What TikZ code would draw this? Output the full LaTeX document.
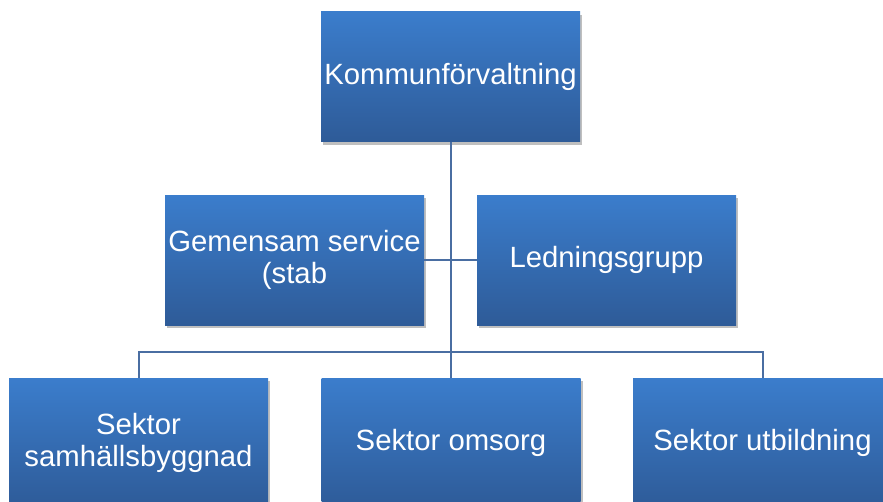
\documentclass[tikz,border=0pt]{standalone}
\usepackage{fontspec}
\setmainfont{Liberation Sans}
\usepackage{xcolor}
\usepackage{tikz}
\usetikzlibrary{positioning,shadows}
\definecolor{boxtop}{RGB}{59,125,204}
\definecolor{boxbot}{RGB}{46,91,152}
\definecolor{linkblue}{RGB}{74,110,162}
\tikzset{
  unit/.style={rectangle,draw=none,top color=boxtop,bottom color=boxbot,minimum width=259pt,minimum height=130pt,inner sep=1pt,text=white,align=center,font=\fontsize{29.3}{31.5}\selectfont,drop shadow={shadow xshift=2pt,shadow yshift=-3pt,fill=black,opacity=0.25}},
  link/.style={draw=linkblue,line width=2pt}
}

\begin{document}
\begin{tikzpicture}[x=1pt,y=-1pt]
    \useasboundingbox (0,0) rectangle (883,501);
    \clip (0,0) rectangle (883,501);

    \node[unit] (kommun) at (450.5,76.5) {Kommunförvaltning};
    \node[unit] (gemensam) at (294.5,260) {Gemensam service\\(stab};
    \node[unit] (ledning) at (606.5,260) {Ledningsgrupp};
    \node[unit] (samhall) at (138.5,443) {Sektor\\samhällsbyggnad};
    \node[unit] (omsorg) at (451,443) {Sektor omsorg};
    \node[unit] (utbild) at (762.5,443) {Sektor utbildning};

    \coordinate (bus) at (451,352);

    \draw[link] (kommun.south -| bus) -- (bus);
    \draw[link] (gemensam.east) -- (gemensam.east -| bus);
    \draw[link] (ledning.west) -- (ledning.west -| bus);
    \draw[link] (samhall.north) |- (bus) -| (utbild.north);
    \draw[link] (bus) -- (omsorg.north);
\end{tikzpicture}
\end{document}
